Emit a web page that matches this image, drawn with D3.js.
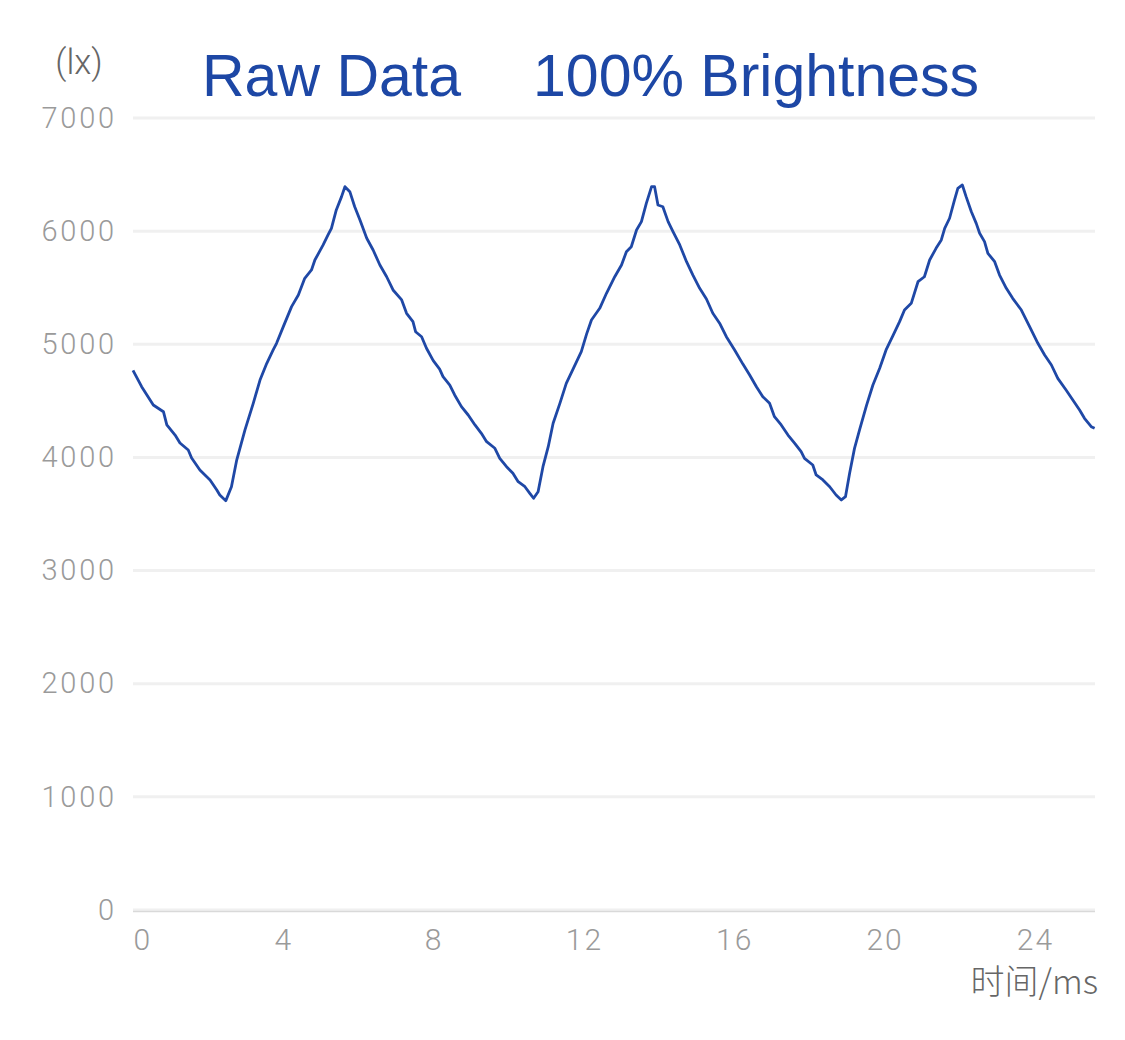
<!DOCTYPE html>
<html><head><meta charset="utf-8">
<script src="https://cdn.jsdelivr.net/npm/d3@7"></script>
<style>
html,body{margin:0;padding:0;background:#fff;}
svg{display:block;}
</style></head>
<body>
<script>
const timeMs = [0.00,0.23,0.54,0.81,0.90,1.12,1.25,1.47,1.56,1.78,2.05,2.23,2.31,2.47,2.62,2.76,2.98,3.20,3.38,3.56,3.73,3.82,4.00,4.22,4.40,4.57,4.75,4.84,5.06,5.19,5.28,5.41,5.55,5.64,5.77,5.90,6.04,6.22,6.39,6.57,6.75,6.92,7.15,7.28,7.45,7.52,7.68,7.81,7.99,8.16,8.25,8.43,8.56,8.74,8.92,9.10,9.27,9.41,9.63,9.76,9.94,10.11,10.25,10.43,10.56,10.66,10.78,10.91,11.05,11.18,11.36,11.53,11.71,11.93,12.07,12.20,12.42,12.60,12.82,13.00,13.13,13.26,13.40,13.53,13.66,13.80,13.88,13.97,14.10,14.24,14.37,14.55,14.73,14.90,15.08,15.26,15.43,15.61,15.79,16.01,16.23,16.41,16.59,16.76,16.94,17.07,17.25,17.43,17.61,17.78,17.87,18.09,18.18,18.36,18.54,18.71,18.85,18.96,19.07,19.20,19.34,19.52,19.69,19.87,20.04,20.22,20.40,20.53,20.71,20.89,21.06,21.20,21.37,21.51,21.60,21.73,21.86,21.95,22.07,22.17,22.31,22.44,22.53,22.66,22.75,22.93,23.06,23.24,23.41,23.64,23.86,24.08,24.26,24.44,24.61,24.83,25.01,25.19,25.32,25.50,25.59];
const illuminance = [4770,4625,4463,4404,4287,4198,4128,4066,3995,3889,3801,3712,3668,3618,3741,3977,4243,4478,4684,4832,4950,5009,5156,5333,5436,5583,5657,5745,5878,5966,6025,6187,6305,6393,6349,6216,6099,5937,5833,5701,5597,5480,5392,5274,5200,5111,5067,4965,4855,4780,4714,4640,4552,4449,4375,4287,4213,4139,4081,3992,3918,3860,3786,3741,3683,3639,3697,3918,4095,4302,4478,4655,4780,4935,5090,5215,5318,5451,5597,5701,5818,5862,6010,6084,6246,6393,6393,6231,6216,6084,5995,5878,5730,5612,5495,5400,5274,5186,5067,4950,4825,4729,4625,4537,4478,4360,4287,4198,4125,4051,3992,3933,3845,3801,3741,3668,3624,3653,3860,4080,4250,4460,4640,4788,4950,5075,5200,5303,5362,5553,5597,5745,5848,5922,6025,6114,6275,6378,6408,6305,6172,6069,5981,5907,5804,5730,5612,5495,5406,5303,5156,5009,4905,4817,4699,4596,4508,4419,4346,4272,4258];
const yTicks = [0,1000,2000,3000,4000,5000,6000,7000];
const xTicks = [0,4,8,12,16,20,24];
const titleLeft = "Raw Data";
const titleRight = "100% Brightness";
const yUnit = "(lx)";
const xName = "时间/ms";

const W = 1125, H = 1040;
const svg = d3.select("body").append("svg").attr("width", W).attr("height", H);
const x = d3.scaleLinear().domain([0, 25.6]).range([133, 1095]);
const y = d3.scaleLinear().domain([0, 7000]).range([910, 118]);
const font = "Roboto, 'Liberation Sans', Arial, sans-serif";

// grid
svg.append("g").selectAll("line").data(yTicks).join("line")
  .attr("x1", 133).attr("x2", 1095)
  .attr("y1", d => y(d)).attr("y2", d => y(d))
  .attr("stroke", "#f0f0f0").attr("stroke-width", 3);
svg.append("line").attr("x1", 133).attr("x2", 1095).attr("y1", 911.5).attr("y2", 911.5)
  .attr("stroke", "#d9d9d9").attr("stroke-width", 1.5);

// y axis labels
const yAxis = d3.axisLeft(y).tickValues(yTicks).tickSize(0).tickPadding(0).tickFormat(d3.format("d"));
const gy = svg.append("g").attr("transform", "translate(117,0)").call(yAxis);
gy.select(".domain").remove();
gy.selectAll("text").attr("fill", "#9a9a9a").attr("font-size", 29).attr("font-family", font)
  .attr("font-weight", 300).attr("letter-spacing", 2.8).attr("dy", "0.32em");

// x axis labels
const xAxis = d3.axisBottom(x).tickValues(xTicks).tickSize(0).tickPadding(0).tickFormat(d3.format("d"));
const gx = svg.append("g").attr("transform", "translate(0,929)").call(xAxis);
gx.select(".domain").remove();
gx.selectAll("text").attr("fill", "#9a9a9a").attr("font-size", 30).attr("font-family", font)
  .attr("font-weight", 300).attr("letter-spacing", 2).attr("dy", "0.71em");
gx.selectAll("text").filter(d => d === 0).attr("text-anchor", "start").attr("dx", 0);

// line
const pts = timeMs.map((t, i) => [t, illuminance[i]]);
svg.append("path").datum(pts)
  .attr("fill", "none").attr("stroke", "#1f48a6").attr("stroke-width", 2.8)
  .attr("stroke-linejoin", "round")
  .attr("d", d3.line().x(d => x(d[0])).y(d => y(d[1])));

// titles
svg.append("text").attr("x", 202).attr("y", 96).text(titleLeft)
  .attr("fill", "#1d47a5").attr("font-size", 59).attr("font-family", "'Liberation Sans', Arial, sans-serif");
svg.append("text").attr("x", 533).attr("y", 96).text(titleRight)
  .attr("fill", "#1d47a5").attr("font-size", 59).attr("font-family", "'Liberation Sans', Arial, sans-serif");

svg.append("text").attr("x", 79).attr("y", 74).attr("text-anchor", "middle").text(yUnit)
  .attr("fill", "#666").attr("font-size", 35).attr("font-family", font).attr("font-weight", 300);
svg.append("text").attr("x", 1098).attr("y", 994).attr("text-anchor", "end").text(xName)
  .attr("fill", "#666").attr("font-size", 34).attr("font-family", "'Noto Sans CJK SC', Roboto, sans-serif").attr("font-weight", 300);
</script>
</body></html>
